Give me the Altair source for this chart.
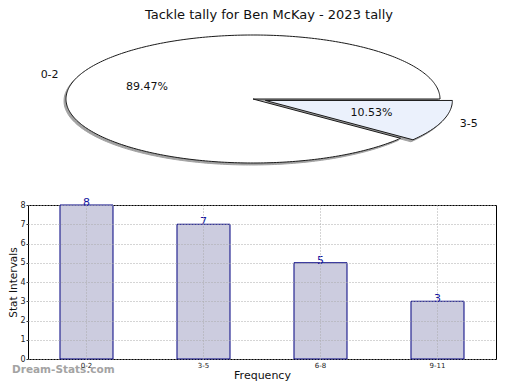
import altair as alt
import numpy as np
import pandas as pd

# ---------------- data ----------------
title_text = "Tackle tally for Ben McKay - 2023 tally"
pie_labels = ["0-2", "3-5"]
pie_pcts = [89.47, 10.53]

bar_cats = ["0-2", "3-5", "6-8", "9-11"]
bar_vals = [8, 7, 5, 3]

# ---------------- styling / geometry constants ----------------
pie_fills = {"0-2": "#ffffff", "3-5": "#ebf1fc"}
explode = {"0-2": 0.0, "3-5": 0.07}
FONT = "DejaVu Sans"

# build slice outlines (unit ellipse, stretched by scales)
poly_rows = []
label_rows = []
total = sum(pie_pcts)
start = 0.0
for lab, p in zip(pie_labels, pie_pcts):
    a0 = start
    a1 = start + 360.0 * p / total
    start = a1
    mid = np.radians((a0 + a1) / 2.0)
    ox = explode[lab] * np.cos(mid)
    oy = explode[lab] * np.sin(mid)
    angs = np.linspace(a0, a1, int(abs(a1 - a0)) + 2)
    pts = [(ox, oy)] + [(ox + np.cos(np.radians(a)), oy + np.sin(np.radians(a))) for a in angs] + [(ox, oy)]
    for i, (x, y) in enumerate(pts):
        poly_rows.append({"slice": lab, "i": i, "x": x, "y": y})
    label_rows.append({
        "slice": lab,
        "lx": ox + 1.15 * np.cos(mid), "ly": oy + 1.15 * np.sin(mid),
        "px": ox + 0.60 * np.cos(mid), "py": oy + 0.60 * np.sin(mid),
        "pct": f"{p:.2f}%",
    })

poly_df = pd.DataFrame(poly_rows)
label_df = pd.DataFrame(label_rows)

PIE_W, PIE_H = 482, 145
CX, CY, RX, RY = 225, 77, 187, 64
sx = alt.Scale(domain=[-CX / RX, (PIE_W - CX) / RX], nice=False, zero=False)
sy = alt.Scale(domain=[-(PIE_H - CY) / RY, CY / RY], nice=False, zero=False)

base = alt.Chart(poly_df).encode(
    x=alt.X("x:Q", scale=sx, axis=None),
    y=alt.Y("y:Q", scale=sy, axis=None),
    order=alt.Order("i:Q"),
    detail="slice:N",
)

shadow = base.mark_line(fill="#999999", stroke="#999999", strokeWidth=1, xOffset=-2, yOffset=2, opacity=0.9)
slice_layers = [
    base.transform_filter(alt.datum.slice == lab).mark_line(
        fill=pie_fills[lab], stroke="#1a1a1a", strokeWidth=1
    )
    for lab in pie_labels
]

lab_text = alt.Chart(label_df).mark_text(font=FONT, fontSize=11, color="#111111").encode(
    x=alt.X("lx:Q", scale=sx, axis=None),
    y=alt.Y("ly:Q", scale=sy, axis=None),
    text="slice:N",
)
pct_text = alt.Chart(label_df).mark_text(font=FONT, fontSize=11, color="#111111").encode(
    x=alt.X("px:Q", scale=sx, axis=None),
    y=alt.Y("py:Q", scale=sy, axis=None),
    text="pct:N",
)

pie = alt.layer(shadow, *slice_layers, lab_text, pct_text).properties(
    width=PIE_W,
    height=PIE_H,
    title=alt.TitleParams(title_text, font=FONT, fontSize=13, fontWeight="normal",
                          anchor="middle", color="#111111", offset=0),
    view=alt.ViewBackground(stroke="transparent"),
)

# ---------------- bar chart ----------------
bar_df = pd.DataFrame({"cat": bar_cats, "val": bar_vals})

bx = alt.X(
    "cat:N", sort=bar_cats, title="Frequency",
    scale=alt.Scale(paddingInner=0.547, paddingOuter=0.2735),
    axis=alt.Axis(labelAngle=0, labelFont=FONT, labelFontSize=7,
                  labelColor="#222222", labelPadding=2, tickSize=0, domain=False,
                  grid=True, gridDash=[1, 2], gridColor="#aaaaaa", bandPosition=0.5,
                  titleFont=FONT, titleFontSize=11, titleFontWeight="normal",
                  titleColor="#111111", titlePadding=1, zindex=1),
)
by = alt.Y(
    "val:Q", title="Stat Intervals",
    scale=alt.Scale(domain=[0, 8], nice=False),
    axis=alt.Axis(values=[0, 1, 2, 3, 4, 5, 6, 7, 8], labelOverlap=False,
                  labelFont=FONT, labelFontSize=8, labelColor="#222222", labelPadding=1,
                  tickSize=2, tickColor="#333333", domain=False,
                  grid=True, gridDash=[1, 2], gridColor="#aaaaaa",
                  titleFont=FONT, titleFontSize=10.5, titleFontWeight="normal",
                  titleColor="#111111", titlePadding=1, zindex=1),
)

bars = alt.Chart(bar_df).mark_bar(fill="#ccccdf", stroke="#000080", strokeWidth=1).encode(x=bx, y=by)
vals = alt.Chart(bar_df).mark_text(font=FONT, fontSize=11, color="#1515a0", baseline="bottom", dy=3).encode(
    x=bx, y=by, text="val:Q",
)
mark_df = pd.DataFrame({"t": ["Dream-Stats.com"]})
watermark = alt.Chart(mark_df).mark_text(
    font=FONT, fontSize=10.5, fontWeight="bold", color="#9a9a9a", align="left", baseline="middle", opacity=0.9
).encode(x=alt.value(-16), y=alt.value(165), text="t:N")

barchart = alt.layer(bars, vals, watermark).properties(
    width=468, height=154,
    view=alt.ViewBackground(stroke="#000000", strokeWidth=1),
)

chart = alt.vconcat(pie, barchart, spacing=28).properties(
    padding={"left": 0, "top": 0, "right": 0, "bottom": 0}
).configure(font=FONT)

chart.save("out.html", embed_options={"renderer": "svg", "actions": False})
